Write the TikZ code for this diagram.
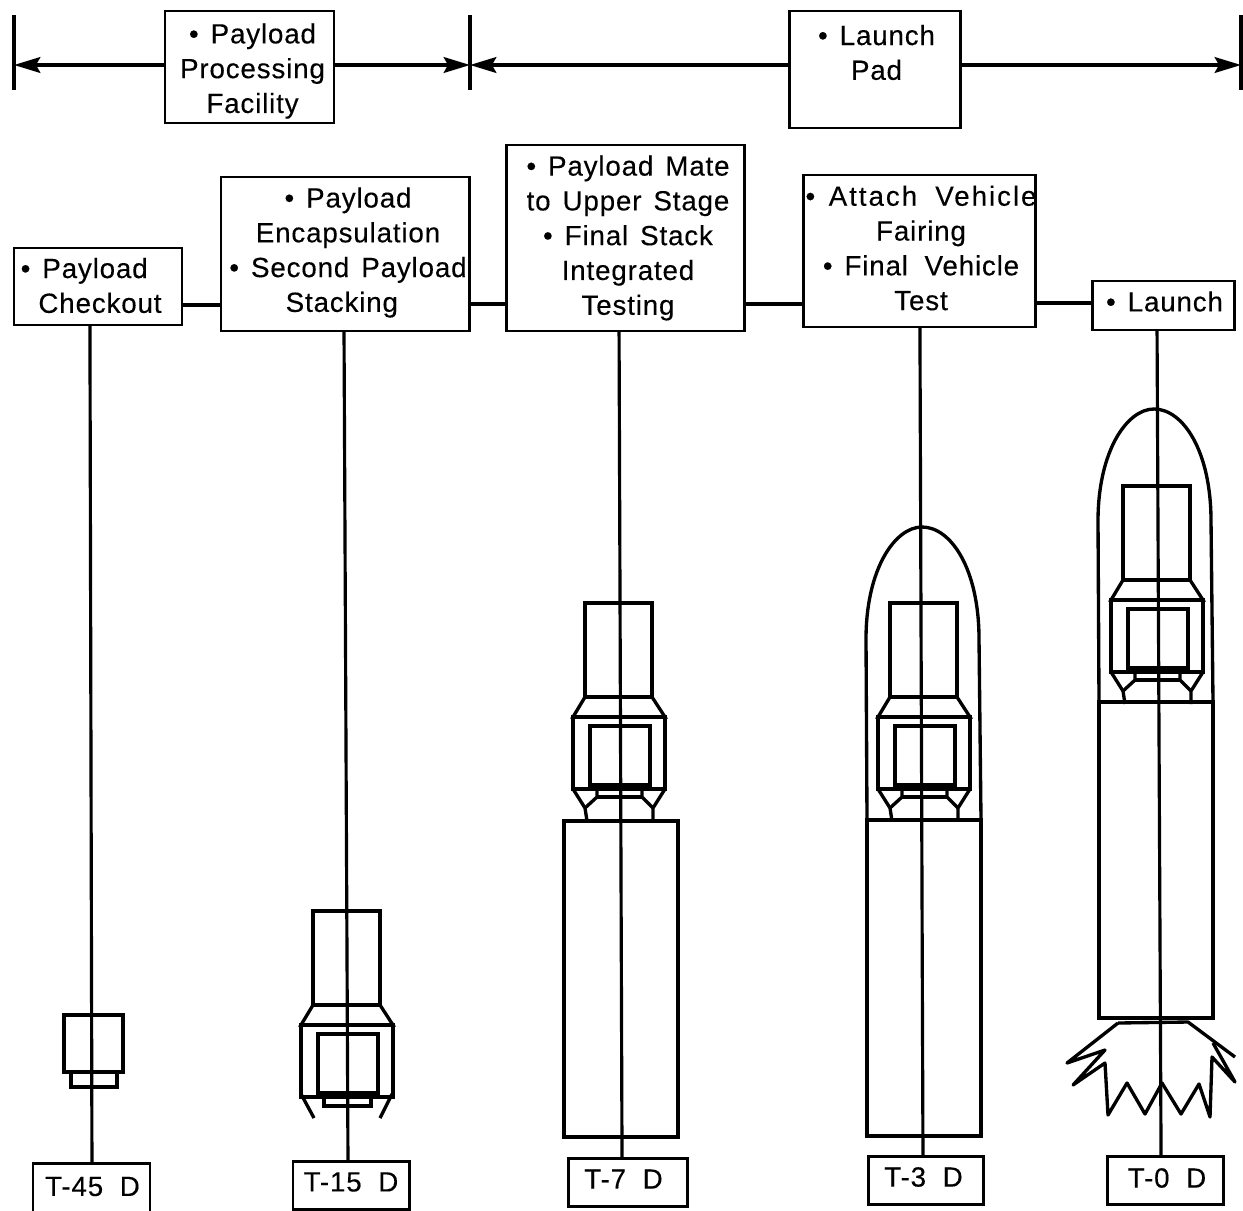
\documentclass[tikz,border=0pt]{standalone}
\usepackage{fontspec}
\setmainfont[WordSpace=1.4,LetterSpace=3,FakeBold=0.25]{Liberation Sans}
\usetikzlibrary{arrows.meta,calc}
\newcommand{\pxu}{0.02cm}
\tikzset{
  stage/.style={draw,line width=1.7pt,inner sep=0pt,outer sep=0pt},
  stagetext/.style={inner sep=0pt,align=center,font=\fontsize{15.8}{19.8}\selectfont},
  link/.style={line width=1.8pt},
  hard/.style={line width=1.9pt,line join=miter},
  flame/.style={line width=1.9pt,line join=round},
  span/.style={line width=1.8pt,-{Stealth[length=15pt,width=9pt,inset=2.5pt]}},
}
% box by its corners, then its text, moved by #6,#7
\newcommand{\stagebox}[8]{%
  \node[stage,minimum width={(#4-#2)*\pxu},minimum height={(#5-#3)*\pxu}] (#1) at ({(#2+#4)/2},{(#3+#5)/2}) {};
  \node[stagetext] (#1text) at ({(#2+#4)/2+#6},{(#3+#5)/2+#7}) {#8};
}
% spacecraft, upper part, T-7 position
\newcommand{\upperstack}{%
  \draw[hard] (585,603) rectangle (652,697);
  \draw[hard] (585,697) -- (573,717) -- (665,717) -- (652,697);
  \draw[hard] (573,717) rectangle (665,789);
  \draw[hard] (590,726) rectangle (650,785);
}
\newcommand{\adapter}{%
  \draw[hard] (573,789) -- (585,808) -- (587,821);
  \draw[hard] (665,789) -- (653,808) -- (653,821);
  \draw[hard] (585,808) -- (597,797) -- (597,789);
  \draw[hard] (653,808) -- (642,797) -- (642,789);
  \draw[hard] (597,797) -- (642,797);
}
\newcommand{\tank}{\draw[hard] (564,821) rectangle (678,1137);}
\newcommand{\fairing}{%
  \draw[hard] (564,821) -- (563,640) .. controls (563,570) and (592,528) .. (619,528)
    .. controls (648,528) and (676,570) .. (676,640) -- (678,821);
}
\begin{document}
\begin{tikzpicture}[x=\pxu,y=-\pxu]
  \useasboundingbox (0,0) rectangle (1243,1210);
  % phases
  \stagebox{proc}{165}{11}{334}{123}{3}{4}{\textbullet\ Payload\\Processing\\Facility}
  \stagebox{pad}{789}{11}{960}{128}{2}{-17}{\textbullet\ Launch\\Pad}
  \coordinate (endA) at (14,65);
  \coordinate (endB) at (470,65);
  \coordinate (endC) at (1241,65);
  \foreach \e in {endA,endB,endC} {\draw[link] ($(\e)+(0,-50)$) -- ($(\e)+(0,25)$);}
  \draw[span] (proc.west |- endA) -- (endA);
  \draw[span] (proc.east |- endB) -- (endB);
  \draw[span] (pad.west |- endB) -- (endB);
  \draw[span] (pad.east |- endC) -- (endC);
  % activities
  \stagebox{checkout}{14}{248}{182}{325}{2}{-1}{\textbullet\ Payload\hspace*{18pt}\\Checkout}
  \stagebox{encap}{221}{177}{469}{331}{3}{-1.5}{\textbullet\ Payload\\Encapsulation\\\textbullet\ Second Payload\\Stacking\hspace*{7pt}}
  \stagebox{mate}{506}{145}{744}{331}{3}{0}{\textbullet\ Payload Mate\\to Upper Stage\\\textbullet\ Final Stack\\Integrated\\Testing}
  \stagebox{attach}{803}{175}{1035}{327}{2}{-3}{\addfontfeatures{LetterSpace=7}\textbullet\ Attach\ \,Vehicle\\Fairing\\\textbullet\ Final\ \,Vehicle\\Test}
  \stagebox{launch}{1092}{281}{1234}{330}{1.5}{-4}{\textbullet\ Launch}
  \stagebox{tA}{33}{1163}{150}{1214}{1}{-2}{T-45\ \,D}
  \stagebox{tB}{293}{1161}{409}{1209}{0}{-3}{T-15\ \,D}
  \stagebox{tC}{568}{1158}{687}{1206}{-4}{-3}{T-7\ \,D}
  \stagebox{tD}{868}{1156}{983}{1204}{-2}{-3}{T-3\ \,D}
  \stagebox{tE}{1107}{1156}{1223}{1204}{2}{-2}{T-0\ \,D}
  \foreach \a/\b/\y in {checkout/encap/305,encap/mate/304,mate/attach/304,attach/launch/303} {
    \draw[link] (\a.east |- 0,\y) -- (\b.west |- 0,\y);
  }
  \foreach \a/\b/\p/\q in {checkout/tA/0.452/0.504,encap/tB/0.496/0.474,mate/tC/0.475/0.454,attach/tD/0.504/0.478,launch/tE/0.458/0.466} {
    \draw[link] ($(\a.south west)!\p!(\a.south east)$) -- ($(\b.north west)!\q!(\b.north east)$);
  }
  % T-45
  \draw[hard] (64,1015) rectangle (123,1072);
  \draw[hard] (71,1072) rectangle (117,1087);
  % T-15
  \begin{scope}[shift={(-272,308)}]
    \upperstack
  \end{scope}
  \draw[hard] (324,1093) rectangle (371,1106);
  \draw[hard] (301,1094) -- (314,1118);
  \draw[hard] (392,1094) -- (380,1118);
  % T-7
  \upperstack \adapter \tank
  % T-3
  \begin{scope}[shift={(305,0)}]
    \upperstack \adapter
  \end{scope}
  \begin{scope}[shift={(303,-1)}]
    \tank \fairing
  \end{scope}
  % T-0
  \begin{scope}[shift={(538,-117)}]
    \upperstack \adapter
  \end{scope}
  \begin{scope}[shift={(535,-119)}]
    \tank \fairing
  \end{scope}
  \draw[flame] (1118,1023) -- (1188,1022) -- (1235,1057);
  \draw[flame] (1118,1023) -- (1067,1063) -- (1105,1050) -- (1073,1085) -- (1105,1063) -- (1108,1115)
    -- (1127,1083) -- (1145,1114) -- (1162,1083) -- (1181,1114) -- (1199,1084) -- (1210,1117)
    -- (1212,1057) -- (1235,1082) -- (1213,1043);
\end{tikzpicture}
\end{document}
